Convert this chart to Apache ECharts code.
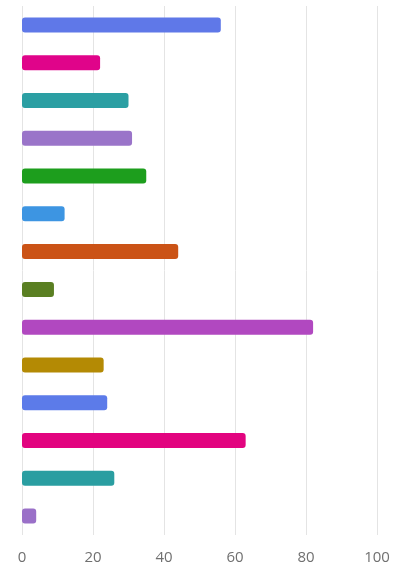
<!DOCTYPE html>
<html>
<head>
<meta charset="utf-8">
<script src="https://cdn.jsdelivr.net/npm/echarts@6/dist/echarts.min.js"></script>
<style>
  html, body { margin: 0; padding: 0; background: #fff; }
  #chart { width: 394px; height: 570px; }
</style>
</head>
<body>
<div id="chart"></div>
<script>
// bars from top to bottom
var categories = ['1', '2', '3', '4', '5', '6', '7', '8', '9', '10', '11', '12', '13', '14'];
var values = [56, 22, 30, 31, 35, 12, 44, 9, 82, 23, 24, 63, 26, 4];
var barColors = ['#5f78e8', '#e0048a', '#2b9fa3', '#9a74c9', '#1d9e1d', '#3d95e2', '#cb5316',
                 '#5a7f22', '#b148c0', '#b48a04', '#5c7be9', '#e2047f', '#2a9ea1', '#9a70c8'];
var xTicks = [0, 20, 40, 60, 80, 100];

var myChart = echarts.init(document.getElementById('chart'));

var option = {
  animation: false,
  grid: {
    left: 22,
    right: 17,
    top: 6,
    bottom: 35
  },
  xAxis: {
    type: 'value',
    min: xTicks[0],
    max: xTicks[xTicks.length - 1],
    interval: 20,
    axisLine: { show: false },
    axisTick: { show: false },
    axisLabel: {
      color: '#707070',
      fontSize: 15,
      fontFamily: 'Open Sans',
      margin: 15
    },
    splitLine: { lineStyle: { color: '#e4e4e4' } }
  },
  yAxis: {
    type: 'category',
    inverse: true,
    data: categories,
    axisLine: { show: false },
    axisTick: { show: false },
    axisLabel: { show: false }
  },
  series: [{
    type: 'bar',
    barWidth: 15,
    data: values.map(function (v, i) {
      return { value: v, itemStyle: { color: barColors[i] } };
    }),
    itemStyle: { borderRadius: 3 }
  }]
};

myChart.setOption(option);
</script>
</body>
</html>
